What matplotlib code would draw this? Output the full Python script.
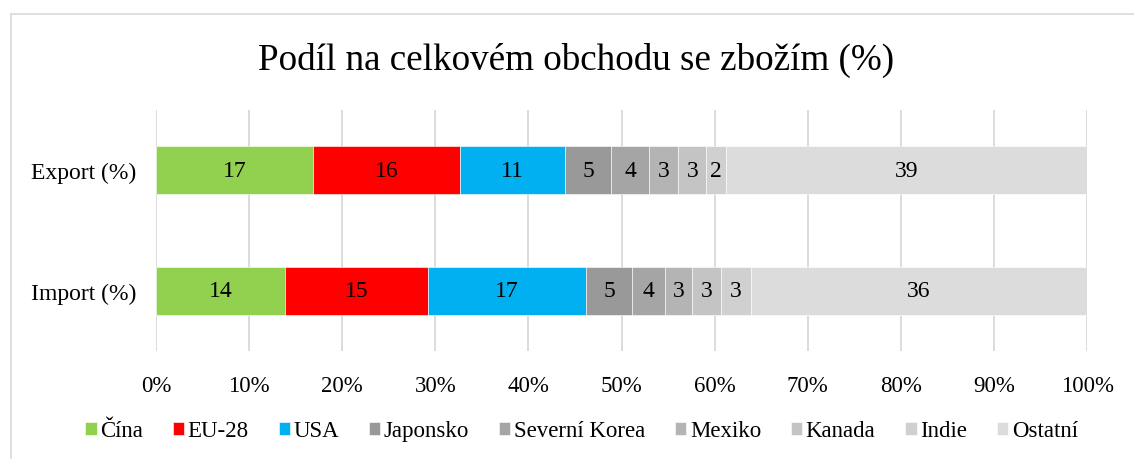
import matplotlib.pyplot as plt
from matplotlib.lines import Line2D
import numpy as np

plt.rcParams['font.family'] = ['Liberation Serif', 'DejaVu Serif']

rows = ["Export (%)", "Import (%)"]
partners = ["Čína", "EU-28", "USA", "Japonsko", "Severní Korea", "Mexiko", "Kanada", "Indie", "Ostatní"]
export_vals = [16.9, 15.7, 11.3, 5.0, 4.1, 3.1, 3.0, 2.1, 38.8]
import_vals = [13.9, 15.3, 17.0, 4.9, 3.6, 2.9, 3.1, 3.2, 36.1]
colors = ["#92D050", "#FF0000", "#00B0F0", "#999999", "#A5A5A5", "#B4B4B4", "#C4C4C4", "#D0D0D0", "#DCDCDC"]

data = np.array([export_vals, import_vals])

fig = plt.figure(figsize=(11.34, 4.60), dpi=100)
ax = fig.add_axes([0.1376, 0.2348, 0.8210, 0.5239])

y = np.arange(len(rows))
left = np.zeros(len(rows))
for i, name in enumerate(partners):
    vals = data[:, i]
    bars = ax.barh(y, vals, left=left, height=0.4, color=colors[i],
                   edgecolor="white", linewidth=0.4, label=name, zorder=3)
    ax.bar_label(bars, labels=["%.0f" % v for v in vals], label_type="center",
                 fontsize=17, color="black")
    left += vals

ax.set_xlim(0, 100)
ax.set_ylim(1.5, -0.5)
ax.set_xticks(np.arange(0, 101, 10))
ax.set_xticklabels(["%d%%" % t for t in range(0, 101, 10)], fontsize=16.5)
ax.set_yticks(y)
ax.set_yticklabels(rows, fontsize=17)
ax.tick_params(length=0)
ax.tick_params(axis="x", pad=17)
ax.tick_params(axis="y", pad=14)
for s in ax.spines.values():
    s.set_visible(False)
ax.grid(axis="x", color="#D9D9D9", linewidth=1.3, zorder=0)

fig.suptitle("Podíl na celkovém obchodu se zbožím (%)", fontsize=26.7,
             x=576.5 / 1134, y=1 - 60 / 460, va="center")

fig.legend(loc="center", bbox_to_anchor=(581.5 / 1134, 1 - 432 / 460), ncol=9, frameon=False,
           fontsize=16.5, handlelength=0.5, handleheight=0.5, handletextpad=0.15,
           columnspacing=1.3)

# light outer frame
fig.add_artist(Line2D([10.5 / 1134, 1], [1 - 15 / 460, 1 - 15 / 460], color="#D9D9D9", linewidth=1.2))
fig.add_artist(Line2D([10.5 / 1134, 10.5 / 1134], [0, 1 - 15 / 460], color="#D9D9D9", linewidth=1.2))

fig.savefig("out.png", dpi=100)
